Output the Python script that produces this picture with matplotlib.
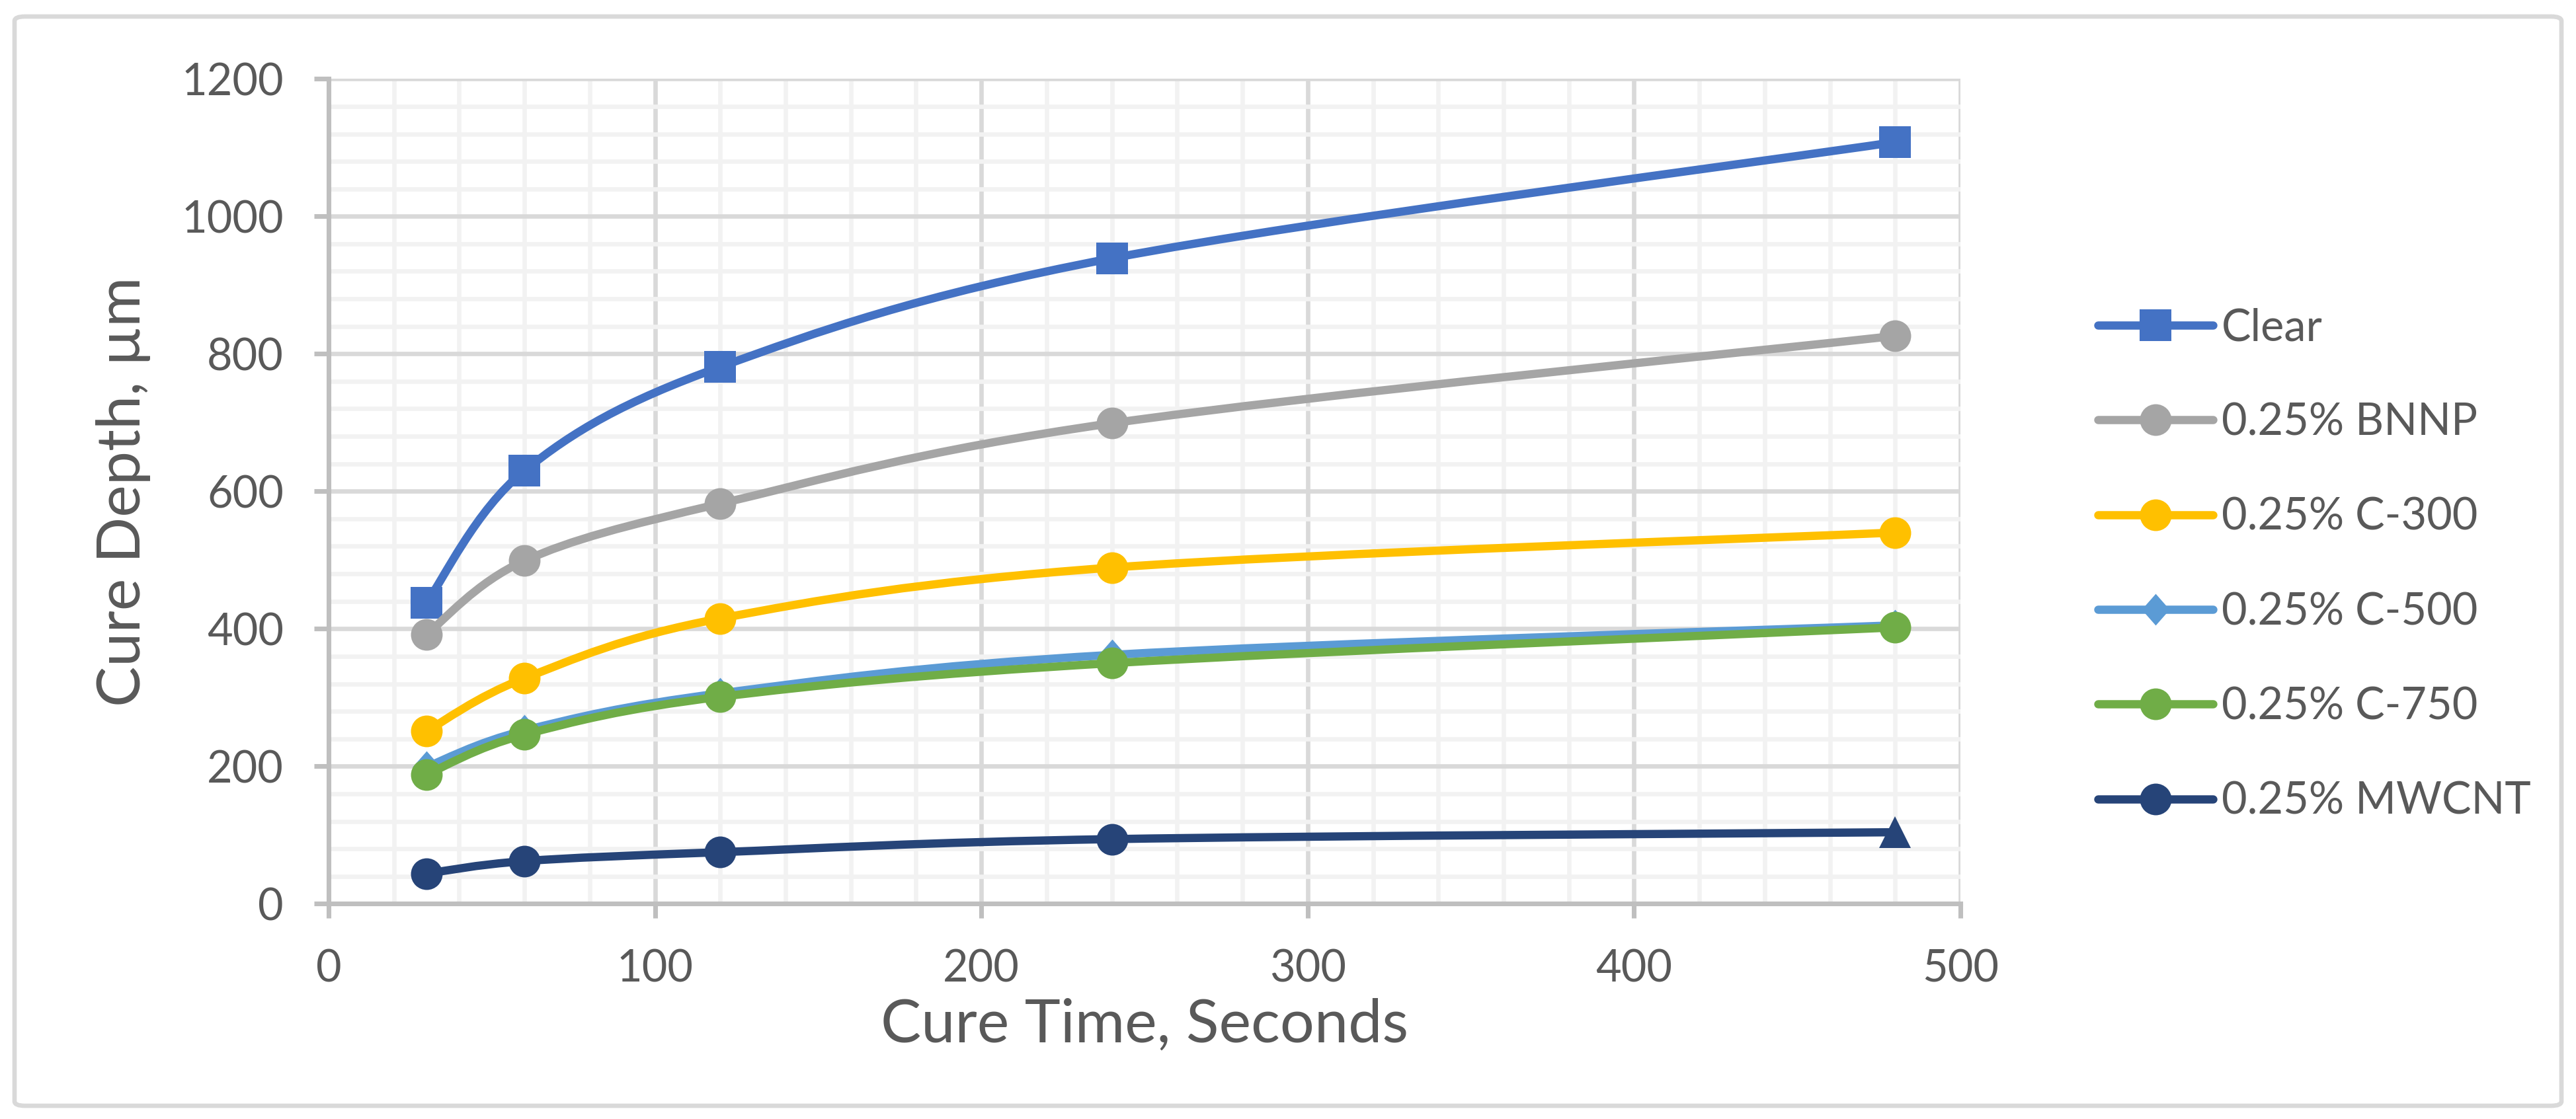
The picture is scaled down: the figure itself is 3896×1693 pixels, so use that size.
import matplotlib
matplotlib.use("Agg")
import matplotlib.pyplot as plt
from matplotlib.path import Path
from matplotlib.patches import PathPatch, FancyBboxPatch
from matplotlib.lines import Line2D
from matplotlib.ticker import MultipleLocator

plt.rcParams['font.family'] = ['Lato', 'DejaVu Sans']

# data
cure_time = [30, 60, 120, 240, 480]
clear = [438, 630, 781, 939, 1108]
bnnp = [392, 499, 582, 699, 826]
c300 = [251, 328, 415, 489, 540]
c500 = [199, 252, 306, 362, 405]
c750 = [188, 246, 301, 350, 402]
mwcnt = [44, 62, 75, 94, 104]

names = ["Clear", "0.25% BNNP", "0.25% C-300", "0.25% C-500", "0.25% C-750", "0.25% MWCNT"]
series = [clear, bnnp, c300, c500, c750, mwcnt]
colors = ["#4472C4", "#A5A5A5", "#FFC000", "#5B9BD5", "#70AD47", "#264478"]

diamond = Path([(0, 0.5), (0.44, 0), (0, -0.5), (-0.44, 0), (0, 0.5)],
               [Path.MOVETO, Path.LINETO, Path.LINETO, Path.LINETO, Path.CLOSEPOLY])
markers = ["s", "o", "o", diamond, "o", "o"]
msizes = [11.3, 11.5, 11.5, 11.5, 11.5, 11.5]

txt = "#595959"


def smooth_path(x, y):
    # excel style smoothed line (catmull-rom as cubic bezier)
    pts = list(zip(x, y))
    n = len(pts)
    verts = [pts[0]]
    codes = [Path.MOVETO]
    for i in range(n - 1):
        p0 = pts[i - 1] if i > 0 else pts[i]
        p1 = pts[i]
        p2 = pts[i + 1]
        p3 = pts[i + 2] if i + 2 < n else pts[i + 1]
        c1 = (p1[0] + (p2[0] - p0[0]) / 6, p1[1] + (p2[1] - p0[1]) / 6)
        c2 = (p2[0] - (p3[0] - p1[0]) / 6, p2[1] - (p3[1] - p1[1]) / 6)
        verts += [c1, c2, p2]
        codes += [Path.CURVE4, Path.CURVE4, Path.CURVE4]
    return Path(verts, codes)


fig = plt.figure(figsize=(3896 / 300, 1693 / 300), dpi=300)
ax = fig.add_axes([497 / 3896, 1 - 1367.3 / 1693, 2468 / 3896, 1248 / 1693])

handles = []
for i in range(len(series)):
    ys = series[i]
    patch = PathPatch(smooth_path(cure_time, ys), facecolor="none", edgecolor=colors[i],
                      lw=3.0, capstyle="round", joinstyle="round", zorder=3 + 2 * i)
    ax.add_patch(patch)
    if names[i] == "0.25% MWCNT":
        ax.plot(cure_time[:-1], ys[:-1], ls="none", marker="o", ms=msizes[i], mew=0,
                color=colors[i], zorder=4 + 2 * i)
        ax.plot(cure_time[-1:], ys[-1:], ls="none", marker="^", ms=11.5, mew=0,
                color=colors[i], zorder=4 + 2 * i)
    else:
        ax.plot(cure_time, ys, ls="none", marker=markers[i], ms=msizes[i], mew=0,
                color=colors[i], zorder=4 + 2 * i)
    handles.append(Line2D([], [], color=colors[i], lw=3.0, marker=markers[i], ms=msizes[i],
                          mew=0, solid_capstyle="round"))

ax.set_xlim(0, 500)
ax.set_ylim(0, 1200)
ax.xaxis.set_major_locator(MultipleLocator(100))
ax.xaxis.set_minor_locator(MultipleLocator(20))
ax.yaxis.set_major_locator(MultipleLocator(200))
ax.yaxis.set_minor_locator(MultipleLocator(40))
ax.grid(which="major", color="#D9D9D9", lw=1.6, zorder=1)
ax.grid(which="minor", color="#F2F2F2", lw=1.6, zorder=0)
ax.set_axisbelow(True)

for s in ["top", "right"]:
    ax.spines[s].set_visible(False)
for s in ["left", "bottom"]:
    ax.spines[s].set_color("#BFBFBF")
    ax.spines[s].set_linewidth(1.7)
    ax.spines[s].set_zorder(2)

ax.tick_params(which="major", direction="out", length=5.3, width=1.7, color="#BFBFBF",
               labelsize=16, labelcolor=txt, pad=11)
ax.tick_params(which="minor", length=0)

ax.set_xlabel("Cure Time, Seconds", fontsize=22, color=txt, va="center")
ax.set_ylabel("Cure Depth, µm", fontsize=22, color=txt, va="center")
ax.xaxis.set_label_coords(0.5, -0.147)
ax.yaxis.set_label_coords(-0.126, 0.5)

leg = ax.legend(handles, names, loc="upper left", bbox_to_anchor=(3140 / 3896, 1 - 432 / 1693),
                bbox_transform=fig.transFigure, frameon=False, fontsize=16,
                handlelength=2.6, handletextpad=0.2, labelspacing=1.22, borderpad=0)
for t in leg.get_texts():
    t.set_color(txt)

border = FancyBboxPatch((22 / 3896, 20 / 1693), 3852 / 3896, 1648 / 1693,
                        boxstyle="round,pad=0,rounding_size=0.004", transform=fig.transFigure,
                        facecolor="none", edgecolor="#D9D9D9", lw=1.6)
fig.patches.append(border)

fig.savefig("out.png", dpi=300, facecolor="white")
